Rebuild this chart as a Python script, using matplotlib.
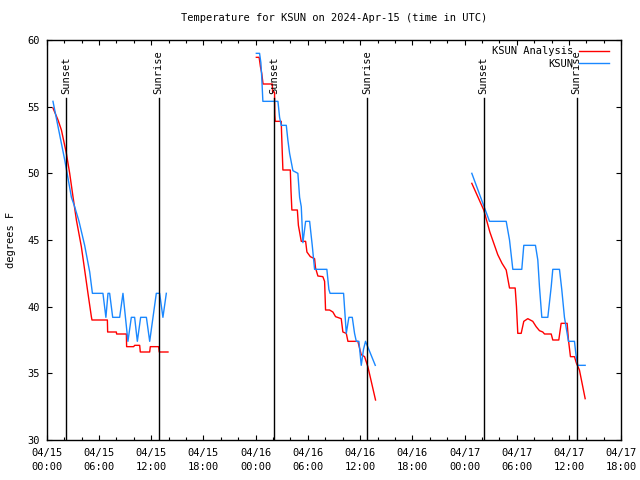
import numpy as np
import pandas as pd
import matplotlib
matplotlib.use("Agg")
import matplotlib.pyplot as plt
import matplotlib.dates as mdates
import matplotlib.transforms as mtransforms

plt.rcParams['font.family'] = ['DejaVu Sans Mono']
plt.rcParams['font.size'] = 7.5

START = pd.Timestamp("2024-04-15 00:00")

# hours after 04/15 00:00 UTC, temperature in F
obs_h1 = [0.72, 2.07, 2.84, 3.21, 3.71, 4.36, 4.94, 5.25, 6.46, 6.80, 7.04, 7.23, 7.58, 8.38, 8.76,
          9.33, 9.72, 10.10, 10.41, 10.79, 11.45, 11.83, 12.59, 12.97, 13.35, 13.74]
obs_t1 = [55.4, 51.0, 48.2, 47.5, 46.4, 44.6, 42.6, 41.0, 41.0, 39.2, 41.0, 41.0, 39.2, 39.2, 41.0,
          37.4, 39.2, 39.2, 37.4, 39.2, 39.2, 37.4, 41.0, 41.0, 39.2, 41.0]
obs_h2 = [24.08, 24.45, 24.60, 24.70, 24.83, 26.56, 26.75, 26.94, 27.52, 27.70, 27.90, 28.28, 28.85,
          29.05, 29.24, 29.43, 29.74, 29.89, 30.20, 30.50, 30.77, 32.18, 32.41, 32.55, 34.10, 34.41,
          34.71, 35.10, 35.36, 35.56, 35.86, 36.13, 36.39, 36.62, 37.74]
obs_t2 = [59.0, 59.0, 58.3, 57.2, 55.4, 55.4, 54.2, 53.6, 53.6, 52.5, 51.5, 50.2, 50.0,
          48.2, 47.5, 44.8, 46.4, 46.4, 46.4, 44.6, 42.8, 42.8, 41.3, 41.0, 41.0, 38.0,
          39.2, 39.2, 38.0, 37.4, 37.4, 35.6, 36.8, 37.4, 35.6]
obs_h3 = [48.83, 50.86, 52.78, 53.16, 53.54, 54.57, 54.80, 56.14, 56.41, 56.60, 56.87, 57.56, 57.95,
          58.13, 58.90, 59.16, 59.47, 59.93, 60.62, 60.81, 61.00, 61.85]
obs_t3 = [50.0, 46.4, 46.4, 45.0, 42.8, 42.8, 44.6, 44.6, 43.5, 41.5, 39.2, 39.2, 41.5,
          42.8, 42.8, 41.3, 39.2, 37.4, 37.4, 36.3, 35.6, 35.6]

ana_h1 = [0.72, 1.30, 1.69, 2.26, 2.64, 3.02, 3.41, 3.98, 4.36, 4.74, 5.13, 5.20, 6.97, 7.00, 8.00,
          8.03, 9.15, 9.18, 9.99, 10.10, 10.68, 10.75, 11.83, 11.90, 12.86, 12.93, 13.93]
ana_t1 = [54.9, 54.0, 53.25, 51.5, 50.0, 48.25, 46.5, 44.5, 42.75, 41.0, 39.25, 39.0, 39.0, 38.1, 38.1,
          37.95, 37.95, 37.0, 37.0, 37.1, 37.1, 36.6, 36.6, 37.0, 37.0, 36.6, 36.6]
ana_h2 = [24.08, 24.40, 24.55, 24.70, 24.85, 25.91, 25.95, 26.17, 26.20, 26.25, 26.94, 26.98, 27.13,
          27.98, 28.06, 28.16, 28.79, 28.91, 29.24, 29.74, 29.89, 30.28, 30.77, 30.88, 31.15, 31.72,
          31.92, 32.03, 32.49, 32.87, 33.18, 33.83, 34.02, 34.41, 34.60, 35.74, 36.13, 36.51, 36.89, 37.77]
ana_t2 = [58.7, 58.7, 58.0, 57.5, 56.7, 56.7, 56.1, 56.1, 54.4, 53.9, 53.9, 53.0, 50.25,
          50.25, 48.7, 47.25, 47.25, 46.1, 44.9, 44.9, 44.1, 43.75, 43.6, 42.9, 42.3, 42.25,
          41.9, 39.75, 39.75, 39.6, 39.25, 39.1, 38.1, 38.0, 37.4, 37.4, 36.4, 36.25, 35.5, 33.0]
ana_h3 = [48.83, 50.20, 50.90, 51.81, 52.30, 52.78, 53.16, 53.81, 53.96, 54.11, 54.50, 54.80, 55.26,
          55.83, 56.22, 56.60, 56.98, 57.18, 57.95, 58.13, 58.82, 59.09, 59.78, 59.93, 60.16, 60.62,
          60.85, 61.19, 61.85]
ana_t3 = [49.25, 47.25, 45.6, 43.9, 43.25, 42.75, 41.4, 41.4, 40.0, 38.0, 38.0, 38.9, 39.1,
          38.9, 38.5, 38.2, 38.1, 37.95, 37.95, 37.5, 37.5, 38.75, 38.75, 37.5, 36.25, 36.25,
          35.75, 35.25, 33.1]

sun_h = [2.24, 12.86, 26.12, 36.84, 50.20, 60.87]
sun_lbl = ["Sunset", "Sunrise", "Sunset", "Sunrise", "Sunset", "Sunrise"]


def to_time(hours):
    return (START + pd.to_timedelta(hours, unit="h")).to_numpy()


fig = plt.figure(figsize=(6.4, 4.8), dpi=100)
ax = fig.add_axes([46.7 / 640, 40 / 480, 574.6 / 640, 400 / 480])

red = "#ff0000"
blue = "#1a88ff"
for i, (h, t) in enumerate([(ana_h1, ana_t1), (ana_h2, ana_t2), (ana_h3, ana_t3)]):
    ax.plot(to_time(h), t, color=red, lw=1.0, label="KSUN Analysis" if i == 0 else None)
for i, (h, t) in enumerate([(obs_h1, obs_t1), (obs_h2, obs_t2), (obs_h3, obs_t3)]):
    ax.plot(to_time(h), t, color=blue, lw=1.0, label="KSUN" if i == 0 else None)

trans = mtransforms.blended_transform_factory(ax.transData, ax.transAxes)
for h, lbl in zip(sun_h, sun_lbl):
    x = to_time([h])[0]
    ax.axvline(x, ymin=0, ymax=0.855, color="black", lw=1.0)
    ax.text(x, 0.865, lbl, transform=trans, rotation=90, ha="center", va="bottom")

ax.set_xlim(to_time([0])[0], to_time([66])[0])
ax.set_ylim(30, 60)
ax.set_yticks(np.arange(30, 61, 5))
ax.xaxis.set_major_locator(mdates.HourLocator(byhour=[0, 6, 12, 18]))
ax.xaxis.set_minor_locator(mdates.HourLocator(byhour=range(0, 24, 2)))
ax.xaxis.set_major_formatter(mdates.DateFormatter("%m/%d\n%H:%M"))
ax.tick_params(which="both", direction="in", top=True, right=True, width=0.8)
ax.tick_params(which="major", length=3.5)
ax.tick_params(which="minor", length=2)
ax.tick_params(axis="x", pad=6)
ax.tick_params(axis="y", pad=5)
for lab in ax.get_xticklabels():
    lab.set_linespacing(1.5)
for s in ax.spines.values():
    s.set_linewidth(1.0)

ax.set_title("Temperature for KSUN on 2024-Apr-15 (time in UTC)", fontsize=7.5, pad=14)
ax.set_ylabel("degrees F")
ax.yaxis.set_label_coords(-0.053, 0.5)

ax.legend(loc="upper right", markerfirst=False, frameon=False, handlelength=2.9,
          handletextpad=0.6, labelspacing=0.25, borderaxespad=0.2, bbox_to_anchor=(0.99, 1.0))

fig.savefig("out.png", dpi=100)
